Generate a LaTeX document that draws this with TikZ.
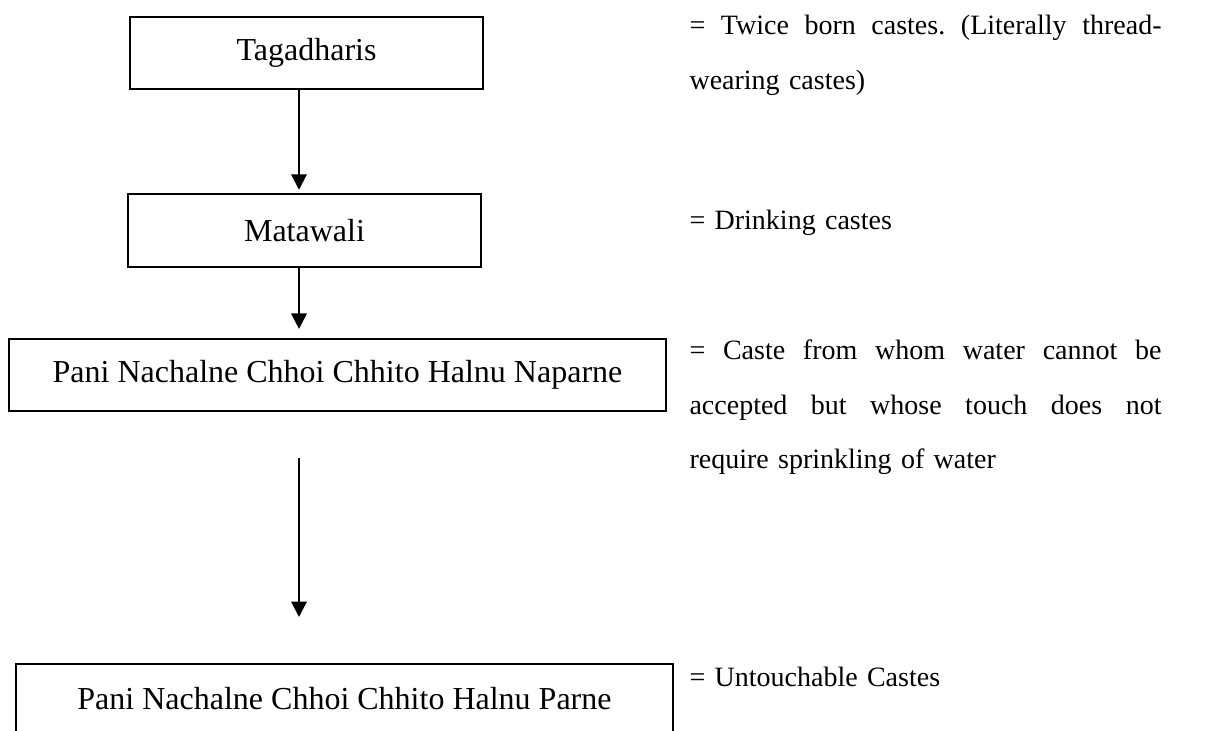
\documentclass[tikz,border=0pt]{standalone}
\usepackage{fontspec}
\setmainfont{Liberation Serif}
\usepackage{tikz}
\usetikzlibrary{positioning, calc, arrows.meta}
\tikzset{
    castenode/.style={
        draw, line width=0.75pt, minimum height=27pt, inner sep=0pt,
        font=\fontsize{12}{14}\selectfont, anchor=center
    },
    notenode/.style={
        anchor=base west, inner sep=0pt, text width=177pt, align=left,
        font=\fontsize{10.5}{20.4}\selectfont\frenchspacing
    },
    ptr/.style={
        -{Triangle[width=5.8pt,length=5.8pt]}, line width=0.75pt
    }
}
% a line spread to the full width of a note
\newcommand{\justline}[1]{\makebox[177pt][s]{\spaceskip=0.25em plus 1fil\relax #1}}

\begin{document}
\begin{tikzpicture}[x=0.375pt, y=-0.375pt]
    \useasboundingbox (0,0) rectangle (1213,731);
    \clip (0,0) rectangle (1213,731);
    % caste boxes
    \node[castenode, minimum width=132.4pt] (tag) at (306.5,53) {Tagadharis};
    \node[castenode, minimum width=132.4pt, minimum height=27.4pt] (mat) at (304.5,230.5) {Matawali};
    \node[castenode, minimum width=246.4pt] (napar) at (337.5,375) {Pani Nachalne Chhoi Chhito Halnu Naparne};
    \node[castenode, minimum width=246.4pt, text depth=1pt] (par) at (344.5,700) {Pani Nachalne Chhoi Chhito Halnu Parne};
    % meanings
    \node[notenode] (tagnote) at (689,35) {\justline{= Twice born castes. (Literally thread-}\\wearing castes)};
    \node[notenode] (matnote) at (689,230) {= Drinking castes};
    \node[notenode] (naparnote) at (689,360) {\justline{= Caste from whom water cannot be}\\\justline{accepted but whose touch does not}\\require sprinkling of water};
    \node[notenode] (parnote) at (689,687) {= Untouchable Castes};
    % arrows
    \coordinate (axis) at (299,0);
    \coordinate (gaptop) at (299,458);
    \coordinate (gapend) at (299,617);
    \draw[ptr, shorten >=1.2pt] (tag.south -| axis) -- (mat.north -| axis);
    \draw[ptr, shorten >=3.4pt] (mat.south -| axis) -- (napar.north -| axis);
    \draw[ptr] (gaptop) -- (gapend);
\end{tikzpicture}
\end{document}
